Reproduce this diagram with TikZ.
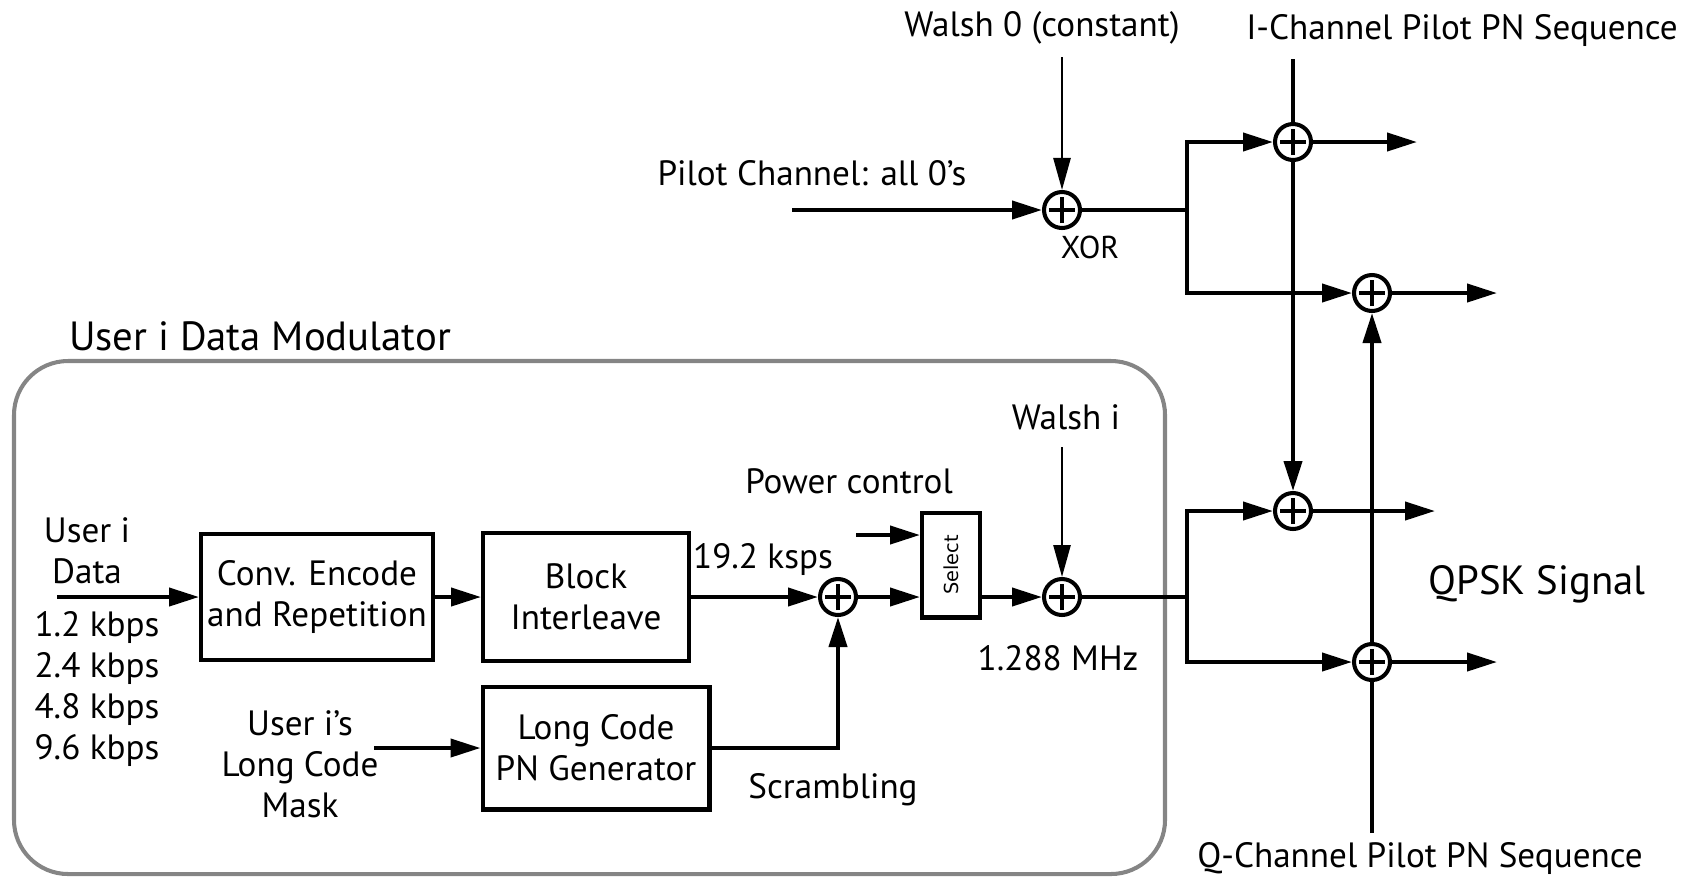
\documentclass[tikz,border=0pt]{standalone}
\usepackage{fontspec}
\setmainfont{PT Sans}
\newfontfamily\selfont{DejaVu Sans}
\usepackage{tikz}
\usetikzlibrary{arrows.meta}
\definecolor{framegray}{HTML}{858585}
\newcommand{\txtmain}{\fontsize{20}{23.2}\selectfont}
\newcommand{\txtbig}{\fontsize{23.2}{26}\selectfont}
\newcommand{\txtsmall}{\fontsize{18}{20}\selectfont}
\tikzset{
  blk/.style={draw,line width=2.3pt,align=center,inner sep=0pt,font=\txtmain},
  sum/.style={circle,draw,line width=2.3pt,minimum size=0.72cm,inner sep=0pt,
    path picture={\draw[line width=2.3pt] ([xshift=-0.26cm]path picture bounding box.center) -- ++(0.52cm,0)
      ([yshift=-0.26cm]path picture bounding box.center) -- ++(0,0.52cm);}},
  lnk/.style={line width=2.3pt,-{Triangle[length=0.6cm,width=0.36cm]}},
  thinlnk/.style={line width=1.5pt,-{Triangle[length=0.64cm,width=0.34cm]}},
  wire/.style={line width=2.3pt},
  lbl/.style={font=\txtmain,align=center,inner sep=0pt}
}
\begin{document}
\begin{tikzpicture}[x=0.02cm,y=-0.02cm]
\useasboundingbox (0,0) rectangle (1692,877);
% user modulator frame
\draw[framegray,line width=2.3pt,rounded corners=1.08cm] (14,361) rectangle (1165,874);
\node[lbl,font=\txtbig] (title) at (260,336) {User i Data Modulator};
% blocks
\node[blk,minimum width=4.64cm,minimum height=2.52cm] (conv) at (317,597) {Conv. Encode\\and Repetition};
\node[blk,minimum width=4.12cm,minimum height=2.56cm] (blk) at (586,597) {Block\\Interleave};
\node[blk,minimum width=4.54cm,minimum height=2.46cm] (lcg) at (596,748) {Long Code\\PN Generator};
\node[blk,minimum width=1.16cm,minimum height=2.1cm,font=\selfont\fontsize{11}{13}\selectfont] (sel) at (951,565) {\rotatebox{90}{Select}};
% adders
\node[sum] (dsum) at (838,597) {};
\node[sum] (wsum) at (1062,597) {};
\node[sum] (xor) at (1062,210) {};
\node[sum] (iA) at (1293,142) {};
\node[sum] (qA) at (1372,293) {};
\node[sum] (iB) at (1293,511) {};
\node[sum] (qB) at (1372,662) {};
% labels
\node[lbl] (w0txt) at (1042,28) {Walsh 0 (constant)};
\node[lbl] (ipntxt) at (1462,30) {I-Channel Pilot PN Sequence};
\node[lbl] (pilottxt) at (812,173) {Pilot Channel: all 0's};
\node[lbl,font=\txtsmall] (xortxt) at (1090,247) {XOR};
\node[lbl] (witxt) at (1066,417) {Walsh i};
\node[lbl] (pctxt) at (849,481) {Power control};
\node[lbl] (kspstxt) at (763,559) {19.2 ksps};
\node[lbl] (mhztxt) at (1058,658) {1.288 MHz};
\node[lbl] (scrtxt) at (833,790) {Scrambling};
\node[lbl] (usertxt) at (87,551) {User i\\Data};
\node[lbl] (ratetxt) at (97,689) {1.2 kbps\\2.4 kbps\\4.8 kbps\\9.6 kbps};
\node[lbl] (masktxt) at (300,764) {User i's\\Long Code\\Mask};
\node[lbl,font=\txtbig] (qpsktxt) at (1537,584) {QPSK Signal};
\node[lbl,anchor=base] (qpntxt) at (1420,867) {Q-Channel Pilot PN Sequence};
% free ends
\coordinate (datain) at (57,597);
\coordinate (maskin) at (374,748);
\coordinate (pcin) at (856,535);
\coordinate (wiin) at (1062,447);
\coordinate (w0in) at (1062,57);
\coordinate (pilotin) at (792,210);
\coordinate (ipn) at (1293,59);
\coordinate (qpn) at (1372,833);
\coordinate (brA) at (1187,210);
\coordinate (brB) at (1187,597);
\coordinate (iAout) at (1417,142);
\coordinate (qAout) at (1497,293);
\coordinate (iBout) at (1435,511);
\coordinate (qBout) at (1497,662);
% data path
\draw[lnk] (datain) -- (conv);
\draw[lnk] (conv) -- (blk);
\draw[lnk] (blk) -- (dsum);
\draw[lnk] (maskin) -- (lcg);
\draw[lnk] (lcg) -| (dsum);
\draw[lnk] (dsum) -- (dsum -| sel.west);
\draw[lnk] (pcin) -- (pcin -| sel.west);
\draw[lnk] (sel.east |- wsum) -- (wsum);
\draw[thinlnk] (wiin) -- (wsum);
\draw[wire] (wsum) -- (brB);
\draw[lnk] (brB) |- (iB);
\draw[lnk] (brB) |- (qB);
% pilot path
\draw[lnk] (pilotin) -- (xor);
\draw[thinlnk] (w0in) -- (xor);
\draw[wire] (xor) -- (brA);
\draw[lnk] (brA) |- (iA);
\draw[lnk] (brA) |- (qA);
% PN sequences
\draw[wire] (ipn) -- (iA);
\draw[lnk] (iA) -- (iB);
\draw[wire] (qpn) -- (qB);
\draw[lnk] (qB) -- (qA);
% outputs
\draw[lnk] (iA) -- (iAout);
\draw[lnk] (qA) -- (qAout);
\draw[lnk] (iB) -- (iBout);
\draw[lnk] (qB) -- (qBout);
\end{tikzpicture}
\end{document}
